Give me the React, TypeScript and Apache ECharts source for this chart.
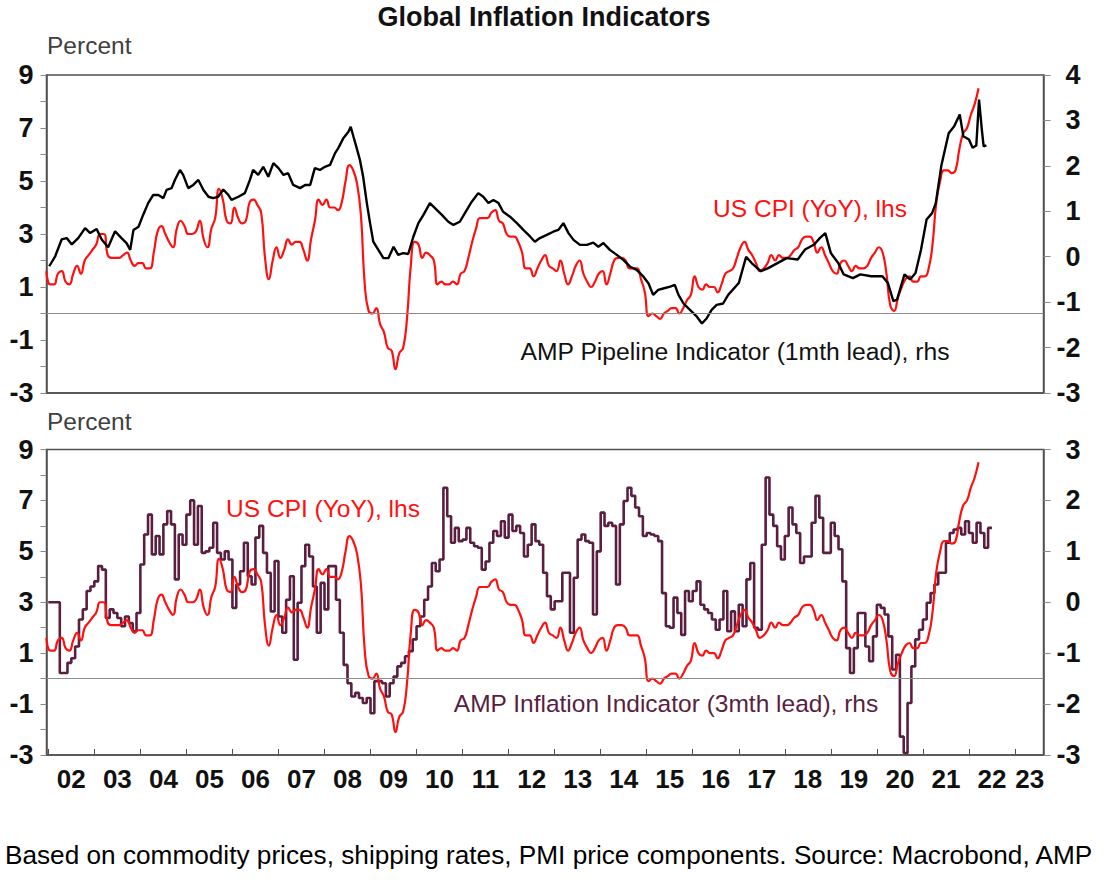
import React, { useEffect, useRef } from "react";
import * as echarts from "echarts";

// US CPI YoY (%), monthly from Dec 2001 to Mar 2022
const cpiStart = 2001 + 11 / 12;
const cpiYoY = [
  1.6,
  1.1, 1.1, 1.5, 1.6, 1.2, 1.1, 1.5, 1.8, 1.5, 2.0, 2.2, 2.4,
  2.6, 3.0, 3.0, 2.2, 2.1, 2.1, 2.1, 2.2, 2.3, 2.0, 1.8, 1.9,
  1.9, 1.7, 1.7, 2.3, 3.1, 3.3, 3.0, 2.7, 2.5, 3.2, 3.5, 3.3,
  3.0, 3.0, 3.1, 3.5, 2.8, 2.5, 3.2, 3.6, 4.7, 4.3, 3.5, 3.4,
  4.0, 3.6, 3.4, 3.5, 4.2, 4.3, 4.1, 3.8, 2.1, 1.3, 2.0, 2.5,
  2.1, 2.4, 2.8, 2.6, 2.7, 2.7, 2.4, 2.0, 2.8, 3.5, 4.3, 4.1,
  4.3, 4.0, 4.0, 3.9, 4.2, 5.0, 5.6, 5.4, 4.9, 3.7, 1.1, 0.1,
  0.0, 0.2, -0.4, -0.7, -1.3, -1.4, -2.1, -1.5, -1.3, -0.2, 1.8, 2.7,
  2.6, 2.1, 2.3, 2.2, 2.0, 1.1, 1.2, 1.1, 1.1, 1.2, 1.1, 1.5,
  1.6, 2.1, 2.7, 3.2, 3.6, 3.6, 3.6, 3.8, 3.9, 3.5, 3.4, 3.0,
  2.9, 2.9, 2.7, 2.3, 1.7, 1.7, 1.4, 1.7, 2.0, 2.2, 1.8, 1.7,
  1.6, 2.0, 1.5, 1.1, 1.4, 1.8, 2.0, 1.5, 1.2, 1.0, 1.2, 1.5,
  1.6, 1.1, 1.5, 2.0, 2.1, 2.1, 2.0, 1.7, 1.7, 1.7, 1.3, 0.8,
  -0.1, 0.0, -0.1, -0.2, 0.0, 0.1, 0.2, 0.2, 0.0, 0.2, 0.5, 0.7,
  1.4, 1.0, 0.9, 1.1, 1.0, 1.0, 0.8, 1.1, 1.5, 1.6, 1.7, 2.1,
  2.5, 2.7, 2.4, 2.2, 1.9, 1.6, 1.7, 1.9, 2.2, 2.0, 2.2, 2.1,
  2.1, 2.2, 2.4, 2.5, 2.8, 2.9, 2.9, 2.7, 2.3, 2.5, 2.2, 1.9,
  1.6, 1.5, 1.9, 2.0, 1.8, 1.6, 1.8, 1.7, 1.7, 1.8, 2.1, 2.3,
  2.5, 2.3, 1.5, 0.3, 0.1, 0.6, 1.0, 1.3, 1.4, 1.2, 1.2, 1.4,
  1.4, 1.7, 2.6, 4.2, 5.0, 5.4, 5.4, 5.3, 5.4, 6.2, 6.8, 7.0,
  7.5, 7.9, 8.5,
];

// AMP Pipeline Indicator (1mth lead), rhs: [year, value]
const pipeline: [number, number][] = [
  [2002.02, -0.21], [2002.15, 0.01], [2002.29, 0.38], [2002.4, 0.41], [2002.51, 0.27], [2002.65, 0.41],
  [2002.8, 0.63], [2002.91, 0.52], [2003.05, 0.61], [2003.16, 0.38], [2003.3, 0.21], [2003.45, 0.56],
  [2003.59, 0.41], [2003.7, 0.3], [2003.78, 0.15], [2003.85, 0.59], [2003.96, 0.66], [2004.06, 0.92],
  [2004.17, 1.18], [2004.28, 1.36], [2004.39, 1.36], [2004.5, 1.29], [2004.57, 1.47], [2004.68, 1.51],
  [2004.75, 1.69], [2004.86, 1.91], [2004.93, 1.8], [2005.04, 1.51], [2005.15, 1.58], [2005.26, 1.69],
  [2005.37, 1.47], [2005.48, 1.32], [2005.58, 1.29], [2005.69, 1.32], [2005.8, 1.48], [2005.91, 1.36],
  [2005.98, 1.25], [2006.13, 1.32], [2006.27, 1.4], [2006.38, 1.69], [2006.45, 1.91], [2006.56, 1.8],
  [2006.67, 1.98], [2006.78, 1.76], [2006.89, 2.06], [2007.0, 1.95], [2007.11, 1.8], [2007.21, 1.84],
  [2007.32, 1.58], [2007.47, 1.51], [2007.58, 1.58], [2007.69, 1.58], [2007.79, 1.95], [2007.9, 1.91],
  [2008.01, 1.98], [2008.12, 2.02], [2008.23, 2.28], [2008.3, 2.39], [2008.41, 2.61], [2008.52, 2.75],
  [2008.57, 2.86], [2008.63, 2.64], [2008.7, 2.39], [2008.77, 2.13], [2008.84, 1.76], [2008.92, 1.18],
  [2008.99, 0.74], [2009.06, 0.33], [2009.17, 0.15], [2009.28, -0.03], [2009.39, -0.03], [2009.5, 0.22],
  [2009.6, 0.04], [2009.71, 0.08], [2009.82, 0.06], [2009.93, 0.44], [2010.04, 0.74], [2010.15, 0.92],
  [2010.29, 1.18], [2010.4, 1.07], [2010.55, 0.92], [2010.69, 0.77], [2010.8, 0.7], [2010.94, 0.77],
  [2011.05, 0.96], [2011.2, 1.21], [2011.34, 1.4], [2011.45, 1.32], [2011.56, 1.18], [2011.67, 1.25],
  [2011.78, 1.18], [2011.88, 0.99], [2012.03, 0.88], [2012.18, 0.74], [2012.32, 0.59], [2012.47, 0.44],
  [2012.57, 0.33], [2012.68, 0.41], [2012.83, 0.48], [2012.97, 0.55], [2013.08, 0.59], [2013.19, 0.74],
  [2013.3, 0.52], [2013.41, 0.37], [2013.55, 0.26], [2013.7, 0.26], [2013.84, 0.31], [2013.95, 0.22],
  [2014.06, 0.3], [2014.2, 0.15], [2014.35, 0.04], [2014.49, -0.07], [2014.64, -0.22], [2014.78, -0.29],
  [2014.93, -0.44], [2015.04, -0.59], [2015.14, -0.84], [2015.25, -0.73], [2015.36, -0.7], [2015.51, -0.66],
  [2015.61, -0.62], [2015.69, -0.84], [2015.8, -1.03], [2015.94, -1.17], [2016.09, -1.32], [2016.2, -1.47],
  [2016.3, -1.36], [2016.41, -1.17], [2016.52, -1.06], [2016.66, -1.03], [2016.77, -0.84], [2017.0, -0.58],
  [2017.16, 0.0], [2017.28, -0.14], [2017.48, -0.32], [2017.64, -0.25], [2017.84, -0.14], [2018.04, -0.03],
  [2018.28, -0.06], [2018.44, 0.16], [2018.64, 0.27], [2018.76, 0.41], [2018.88, 0.52], [2019.0, 0.08],
  [2019.16, -0.14], [2019.28, -0.39], [2019.48, -0.47], [2019.64, -0.39], [2019.88, -0.43], [2020.12, -0.43],
  [2020.24, -0.58], [2020.36, -0.98], [2020.44, -0.94], [2020.6, -0.39], [2020.72, -0.5], [2020.84, -0.36],
  [2020.96, 0.16], [2021.08, 0.82], [2021.2, 0.96], [2021.28, 1.18], [2021.4, 2.0], [2021.56, 2.72],
  [2021.68, 2.87], [2021.8, 3.13], [2021.88, 2.65], [2022.0, 2.58], [2022.08, 2.4], [2022.16, 2.45],
  [2022.22, 3.46], [2022.28, 2.8], [2022.32, 2.43], [2022.38, 2.45],
];

// AMP Inflation Indicator (3mth lead), rhs, monthly from Jan 2002
const inflStart = 2002;
const inflationIndicator = [
  0.0, 0.0, 0.0, -1.39, -1.39, -1.19, -1.1, -0.87, -0.34, -0.14, 0.22, 0.31,
  0.41, 0.71, 0.64, -0.31, -0.14, -0.21, -0.31, -0.47, -0.28, -0.41, -0.57, -0.21,
  0.74, 1.33, 1.72, 0.94, 1.3, 0.94, 1.53, 1.79, 1.53, 0.45, 1.33, 1.13,
  1.72, 2.0, 1.13, 1.89, 0.97, 1.0, 1.07, 1.56, 0.97, 0.84, 1.0, 0.84,
  -0.11, 0.35, 0.61, 1.17, 0.51, 0.35, 1.27, 1.5, 0.97, 0.58, -0.18, 0.81,
  -0.28, -0.6, 0.05, 0.51, -1.13, -0.01, 0.71, 1.13, 0.9, 0.31, -0.6, 0.38,
  -0.14, 0.71, 0.71, 0.05, -0.6, -1.23, -1.59, -1.85, -1.78, -1.88, -1.98, -1.88,
  -2.18, -1.55, -1.55, -1.59, -1.85, -1.59, -1.46, -1.26, -1.19, -1.06, -0.96, -0.73,
  -0.47, -0.28, 0.05, 0.31, 0.77, 0.61, 0.84, 2.25, 1.69, 1.17, 1.46, 1.2,
  1.23, 1.46, 1.17, 1.1, 1.07, 0.64, 0.8, 1.17, 1.4, 1.3, 1.59, 1.27,
  1.72, 1.4, 1.5, 1.36, 0.9, 1.13, 1.53, 1.2, 1.13, 0.58, 0.12, -0.14,
  0.02, 0.02, 0.58, 0.58, -0.6, 0.48, 1.23, 1.33, 1.2, 1.17, -0.24, 1.0,
  1.76, 1.5, 1.56, 1.5, 0.35, 1.53, 1.99, 2.25, 2.09, 1.86, 1.69, 1.3,
  1.36, 1.33, 1.3, 1.2, 0.18, -0.47, -0.5, 0.09, -0.21, -0.64, 0.22, 0.02,
  0.22, 0.41, -0.05, -0.14, -0.21, -0.34, -0.54, -0.34, 0.22, -0.57, -0.18, -0.57,
  -0.05, -0.47, 0.45, 0.77, -0.5, -0.54, 1.13, 2.45, 1.72, 1.5, 1.1, 0.84,
  1.3, 1.86, 1.53, 1.36, 0.77, 0.9, 0.9, 1.56, 2.09, 1.66, 0.97, 0.97,
  1.56, 1.3, 1.04, 0.41, -0.9, -1.39, -0.9, -0.21, -0.21, -0.87, -1.16, -0.67,
  -0.05, -0.11, -0.24, -0.67, -1.32, -1.03, -2.64, -2.96, -1.98, -1.26, -0.73, -0.54,
  -0.34, -0.01, 0.18, 0.35, 0.58, 0.58, 1.17, 1.36, 1.43, 1.46, 1.33, 1.59,
  1.36, 1.17, 1.56, 1.36, 1.07, 1.46, 1.46,
];

const yearTicks = [
  2002, 2003, 2004, 2005, 2006, 2007, 2008, 2009, 2010, 2011, 2012,
  2013, 2014, 2015, 2016, 2017, 2018, 2019, 2020, 2021, 2022, 2023,
];
const yearLabels = [
  "02", "03", "04", "05", "06", "07", "08", "09", "10", "11", "12",
  "13", "14", "15", "16", "17", "18", "19", "20", "21", "22", "23",
];

const FONT = "'Liberation Sans', Arial, Helvetica, sans-serif";
const X_MIN = 2001.961;
const X_MAX = 2023.62;

export default function App() {
  const ref = useRef<HTMLDivElement>(null);

  useEffect(() => {
    if (!ref.current) return;
    const chart = echarts.init(ref.current, null, { renderer: "svg" });

    const cpiData = cpiYoY.map((v, i) => [cpiStart + i / 12 + 1 / 24, v]);
    const inflData = inflationIndicator.map((v, i) => [inflStart + i / 12, v]);
    const labelPos = yearTicks.map((y) => (y === 2023 ? 2023.32 : y + 0.5));

    const frameColor = "#505050";
    const tickColor = "#8a8a8a";

    const leftAxis = (gridIndex: number) => ({
      type: "value",
      gridIndex,
      min: -3,
      max: 9,
      interval: 1,
      position: "left",
      axisLine: { show: true, lineStyle: { color: frameColor, width: 1.5 } },
      axisTick: { show: true, inside: false, length: 6, lineStyle: { color: tickColor, width: 1 } },
      axisLabel: {
        show: true,
        margin: 13,
        fontFamily: FONT,
        fontWeight: "bold",
        fontSize: 27,
        color: "#111",
        formatter: (v: number) => (Math.round(v) % 2 !== 0 ? String(v) : ""),
      },
      splitLine: { show: false },
    });

    const rightAxis = (gridIndex: number, max: number) => ({
      type: "value",
      gridIndex,
      min: -3,
      max,
      interval: 1,
      position: "right",
      axisLine: { show: true, lineStyle: { color: frameColor, width: 1.5 } },
      axisTick: { show: true, inside: false, length: 7, lineStyle: { color: tickColor, width: 1 } },
      axisLabel: {
        show: true,
        margin: 37,
        align: "right",
        fontFamily: FONT,
        fontWeight: "bold",
        fontSize: 27,
        color: "#111",
      },
      splitLine: { show: false },
    });

    const zeroLine = {
      silent: true,
      symbol: "none",
      label: { show: false },
      lineStyle: { color: "#8c8c8c", width: 1, type: "solid" },
      data: [{ yAxis: 0 }],
    };

    chart.setOption({
      animation: false,
      backgroundColor: "#ffffff",
      grid: [
        { left: 46.5, top: 75, width: 997, height: 318, show: true, borderColor: frameColor, borderWidth: 1.5, containLabel: false },
        { left: 46.5, top: 449.5, width: 997, height: 305.5, show: true, borderColor: frameColor, borderWidth: 1.5, containLabel: false },
      ],
      xAxis: [
        {
          type: "value",
          gridIndex: 0,
          min: X_MIN,
          max: X_MAX,
          axisLine: { show: true, onZero: false, lineStyle: { color: frameColor, width: 1.5 } },
          axisTick: { show: false },
          axisLabel: { show: false },
          splitLine: { show: false },
        },
        {
          type: "value",
          gridIndex: 1,
          min: X_MIN,
          max: X_MAX,
          axisLine: { show: true, onZero: false, lineStyle: { color: frameColor, width: 1.5 } },
          axisTick: {
            show: true,
            inside: true,
            length: 6,
            customValues: yearTicks,
            lineStyle: { color: frameColor, width: 1 },
          },
          axisLabel: {
            show: true,
            customValues: labelPos,
            margin: 11,
            fontFamily: FONT,
            fontWeight: "bold",
            fontSize: 26,
            color: "#111",
            formatter: (v: number) => {
              const idx = yearTicks.indexOf(Math.floor(v + 1e-6));
              return idx >= 0 ? yearLabels[idx] : "";
            },
          },
          splitLine: { show: false },
        },
      ],
      yAxis: [leftAxis(0), rightAxis(0, 4), leftAxis(1), rightAxis(1, 3)],
      series: [
        {
          name: "US CPI (YoY), lhs",
          type: "line",
          xAxisIndex: 0,
          yAxisIndex: 0,
          data: cpiData,
          smooth: 0.5,
          showSymbol: false,
          lineStyle: { color: "#ff1010", width: 2.2 },
          markLine: zeroLine,
          z: 2,
        },
        {
          name: "AMP Pipeline Indicator (1mth lead), rhs",
          type: "line",
          xAxisIndex: 0,
          yAxisIndex: 1,
          data: pipeline,
          showSymbol: false,
          lineStyle: { color: "#000000", width: 2.4 },
          z: 3,
        },
        {
          name: "AMP Inflation Indicator (3mth lead), rhs",
          type: "line",
          xAxisIndex: 1,
          yAxisIndex: 3,
          data: inflData,
          step: "end",
          showSymbol: false,
          lineStyle: { color: "#5a1e40", width: 2.6 },
          z: 2,
        },
        {
          name: "US CPI (YoY), lhs ",
          type: "line",
          xAxisIndex: 1,
          yAxisIndex: 2,
          data: cpiData,
          smooth: 0.5,
          showSymbol: false,
          lineStyle: { color: "#ff1010", width: 2.2 },
          markLine: zeroLine,
          z: 3,
        },
      ],
      graphic: [
        {
          type: "text",
          x: 544,
          y: 17,
          style: { text: "Global Inflation Indicators", fill: "#111", fontFamily: FONT, fontWeight: "bold", fontSize: 27, align: "center", verticalAlign: "middle" },
        },
        {
          type: "text",
          x: 47,
          y: 45,
          style: { text: "Percent", fill: "#404040", fontFamily: FONT, fontSize: 24.5, align: "left", verticalAlign: "middle" },
        },
        {
          type: "text",
          x: 47,
          y: 421.5,
          style: { text: "Percent", fill: "#404040", fontFamily: FONT, fontSize: 24.5, align: "left", verticalAlign: "middle" },
        },
        {
          type: "text",
          x: 810,
          y: 208,
          style: { text: "US CPI (YoY), lhs", fill: "#ff1010", fontFamily: FONT, fontSize: 24.5, align: "center", verticalAlign: "middle" },
        },
        {
          type: "text",
          x: 735,
          y: 351,
          style: { text: "AMP Pipeline Indicator (1mth lead), rhs", fill: "#111", fontFamily: FONT, fontSize: 24.7, align: "center", verticalAlign: "middle" },
        },
        {
          type: "text",
          x: 323,
          y: 508,
          style: { text: "US CPI (YoY), lhs", fill: "#ff1010", fontFamily: FONT, fontSize: 24.5, align: "center", verticalAlign: "middle" },
        },
        {
          type: "text",
          x: 666,
          y: 703,
          style: { text: "AMP Inflation Indicator (3mth lead), rhs", fill: "#5a1e40", fontFamily: FONT, fontSize: 24.5, align: "center", verticalAlign: "middle" },
        },
        {
          type: "text",
          x: 5,
          y: 855,
          style: {
            text: "Based on commodity prices, shipping rates, PMI price components. Source: Macrobond, AMP",
            fill: "#000",
            fontFamily: FONT,
            fontSize: 26.2,
            align: "left",
            verticalAlign: "middle",
          },
        },
      ],
    });

    return () => chart.dispose();
  }, []);

  return (
    <div
      ref={ref}
      style={{ position: "absolute", left: 0, top: 0, width: 1118, height: 890, background: "#fff" }}
    />
  );
}
